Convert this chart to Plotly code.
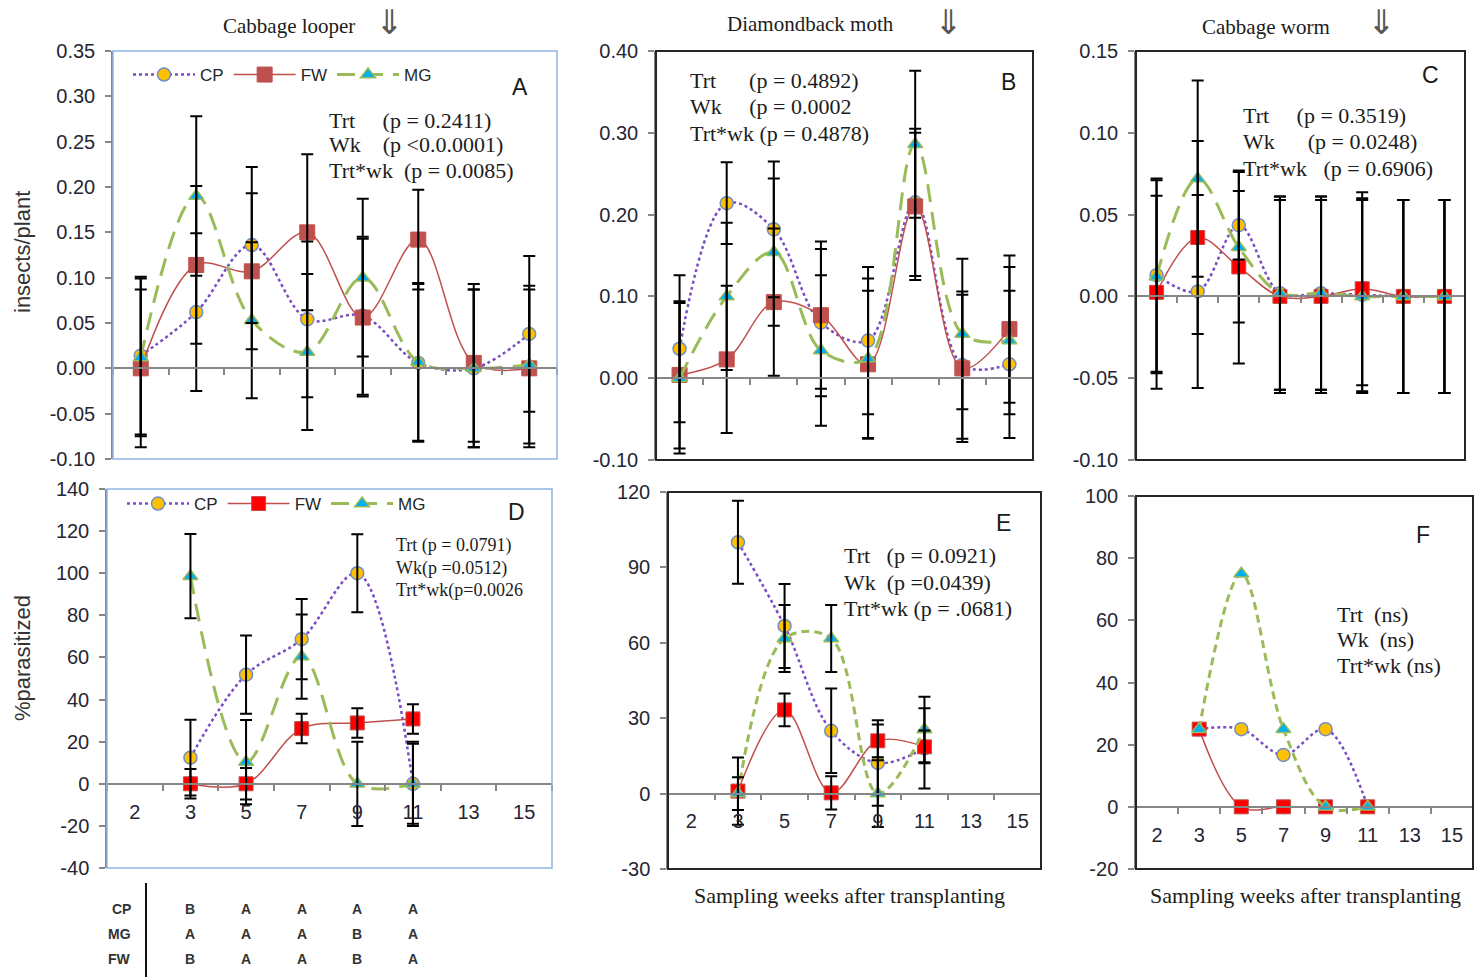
import plotly.graph_objects as go

W, H = 1477, 977

# ---------------------------------------------------------------- data
weeks = ["2", "3", "5", "7", "9", "11", "13", "15"]
par_weeks = ["3", "5", "7", "9", "11"]
series_names = ["CP", "FW", "MG"]

# Cabbage looper, insects/plant (mean and SE)
looper_cp = [0.014, 0.062, 0.136, 0.054, 0.058, 0.006, 0.000, 0.038]
looper_fw = [0.000, 0.114, 0.107, 0.150, 0.056, 0.142, 0.006, 0.000]
looper_mg = [0.012, 0.190, 0.053, 0.018, 0.100, 0.007, 0.000, 0.004]
looper_cp_se = [0.087, 0.087, 0.086, 0.086, 0.087, 0.087, 0.087, 0.086]
looper_fw_se = [0.087, 0.087, 0.086, 0.086, 0.087, 0.055, 0.087, 0.087]
looper_mg_se = [0.087, 0.088, 0.086, 0.086, 0.087, 0.087, 0.087, 0.087]

# Diamondback moth, insects/plant
dbm_cp = [0.036, 0.214, 0.182, 0.068, 0.046, 0.215, 0.016, 0.017]
dbm_fw = [0.004, 0.023, 0.093, 0.077, 0.017, 0.210, 0.012, 0.060]
dbm_mg = [0.000, 0.100, 0.154, 0.034, 0.024, 0.286, 0.054, 0.046]
dbm_cp_se = [0.090, 0.050, 0.083, 0.090, 0.090, 0.090, 0.090, 0.090]
dbm_fw_se = [0.090, 0.090, 0.090, 0.090, 0.090, 0.090, 0.090, 0.090]
dbm_mg_se = [0.092, 0.090, 0.090, 0.092, 0.098, 0.090, 0.092, 0.090]

# Cabbage worm, insects/plant
worm_cp = [0.013, 0.003, 0.0435, 0.002, 0.002, 0.001, 0.000, 0.000]
worm_fw = [0.0025, 0.036, 0.018, 0.000, 0.000, 0.0047, 0.000, 0.000]
worm_mg = [0.012, 0.072, 0.030, 0.002, 0.002, 0.000, 0.000, 0.000]
worm_cp_se = [0.059, 0.059, 0.021, 0.059, 0.059, 0.059, 0.059, 0.059]
worm_fw_se = [0.059, 0.059, 0.059, 0.059, 0.059, 0.059, 0.059, 0.059]
worm_mg_se = [0.059, 0.060, 0.046, 0.059, 0.059, 0.059, 0.059, 0.059]

# Cabbage looper, % parasitized
looper_par_cp = [12.4, 51.8, 68.7, 100.0, 0.0]
looper_par_fw = [0.0, 0.0, 26.2, 28.9, 30.8]
looper_par_mg = [98.6, 10.3, 60.4, 0.0, 0.0]
looper_par_cp_se = [18.0, 18.6, 19.0, 18.5, 19.0]
looper_par_fw_se = [7.0, 7.5, 7.0, 7.0, 7.0]
looper_par_mg_se = [20.0, 20.0, 20.0, 20.0, 20.0]

# Diamondback moth, % parasitized
dbm_par_cp = [100.0, 66.7, 25.0, 12.2, 18.0]
dbm_par_fw = [1.0, 33.3, 0.3, 21.0, 18.6]
dbm_par_mg = [0.0, 61.7, 61.7, 0.0, 25.5]
dbm_par_cp_se = [16.5, 16.7, 16.8, 17.0, 16.0]
dbm_par_fw_se = [13.4, 6.5, 6.6, 6.5, 6.5]
dbm_par_mg_se = [6.5, 13.3, 13.3, 13.3, 13.0]

# Cabbage worm, % parasitized
worm_par_cp = [25.0, 25.0, 16.7, 25.0, 0.0]
worm_par_fw = [25.0, 0.0, 0.0, 0.0, 0.0]
worm_par_mg = [25.0, 75.0, 25.0, 0.0, 0.0]

# y-axis ticks per panel
ticks_A = [-0.10, -0.05, 0.00, 0.05, 0.10, 0.15, 0.20, 0.25, 0.30, 0.35]
ticks_B = [-0.10, 0.00, 0.10, 0.20, 0.30, 0.40]
ticks_C = [-0.10, -0.05, 0.00, 0.05, 0.10, 0.15]
ticks_D = [-40, -20, 0, 20, 40, 60, 80, 100, 120, 140]
ticks_E = [-30, 0, 30, 60, 90, 120]
ticks_F = [-20, 0, 20, 40, 60, 80, 100]

# mean separation letters for looper parasitism (weeks 3-11)
sep_rows = ["CP", "MG", "FW"]
sep_letters = {
    "CP": ["B", "A", "A", "A", "A"],
    "MG": ["A", "A", "A", "B", "A"],
    "FW": ["B", "A", "A", "B", "A"],
}

pest_titles = ["Cabbage looper", "Diamondback moth", "Cabbage worm"]

# ---------------------------------------------------------------- styling
SERIF = "Liberation Serif"
SANS = "Liberation Sans"
TXT = "#1c1c1c"
AXIS = "#868686"
TICKFONT = dict(family=SANS, size=20, color="#262633")

panels = [
    dict(letter="A", box=(113, 51, 557, 459), ticks=ticks_A, fmt="{:.2f}",
         x=weeks, ys=(looper_cp, looper_fw, looper_mg),
         se=(looper_cp_se, looper_fw_se, looper_mg_se),
         frame=("#8EB4E3", 1.5), xlab=False, mgdash="18px,10px", fwcol="#C0504D",
         legend="legend", fwsize=15),
    dict(letter="B", box=(656, 51, 1033, 460), ticks=ticks_B, fmt="{:.2f}",
         x=weeks, ys=(dbm_cp, dbm_fw, dbm_mg), se=(dbm_cp_se, dbm_fw_se, dbm_mg_se),
         frame=("#262626", 2), xlab=False, mgdash="18px,10px", fwcol="#C0504D",
         legend=None, fwsize=15),
    dict(letter="C", box=(1136, 51, 1465, 460), ticks=ticks_C, fmt="{:.2f}",
         x=weeks, ys=(worm_cp, worm_fw, worm_mg), se=(worm_cp_se, worm_fw_se, worm_mg_se),
         frame=("#262626", 2), xlab=False, mgdash="18px,10px", fwcol="#FF0000",
         legend=None, fwsize=14),
    dict(letter="D", box=(107, 489, 552, 868), ticks=ticks_D, fmt="{:d}",
         x=par_weeks, ys=(looper_par_cp, looper_par_fw, looper_par_mg),
         se=(looper_par_cp_se, looper_par_fw_se, looper_par_mg_se),
         frame=("#8EB4E3", 1.5), xlab=True, mgdash="18px,10px", fwcol="#FF0000",
         legend="legend2", fwsize=14),
    dict(letter="E", box=(668, 492, 1041, 869), ticks=ticks_E, fmt="{:d}",
         x=par_weeks, ys=(dbm_par_cp, dbm_par_fw, dbm_par_mg),
         se=(dbm_par_cp_se, dbm_par_fw_se, dbm_par_mg_se),
         frame=("#262626", 2), xlab=True, mgdash="8px,5px", fwcol="#FF0000",
         legend=None, fwsize=14),
    dict(letter="F", box=(1136, 496, 1473, 869), ticks=ticks_F, fmt="{:d}",
         x=par_weeks, ys=(worm_par_cp, worm_par_fw, worm_par_mg), se=None,
         frame=("#262626", 2), xlab=True, mgdash="8px,5px", fwcol="#FF0000",
         legend=None, fwsize=14),
]

fig = go.Figure()
layout_axes = {}
shapes = []
annotations = []

for i, p in enumerate(panels, start=1):
    s = "" if i == 1 else str(i)
    x0, y0, x1, y1 = p["box"]
    xd = [x0 / W, x1 / W]
    yd = [1 - y1 / H, 1 - y0 / H]
    ymin, ymax = p["ticks"][0], p["ticks"][-1]
    zero_pos = yd[0] + (0 - ymin) / (ymax - ymin) * (yd[1] - yd[0])

    styles = [
        dict(line=dict(color="#7A4DC2", width=2.5, dash="dot", shape="spline", smoothing=1.0),
             marker=dict(symbol="circle", size=13, color="#FFC000",
                         line=dict(color="#6F8FC7", width=1.5))),
        dict(line=dict(color="#C0504D", width=1.5, shape="spline", smoothing=1.0),
             marker=dict(symbol="square", size=p["fwsize"], color=p["fwcol"],
                         line=dict(color="#C0504D", width=1))),
        dict(line=dict(color="#9BBB59", width=3, dash=p["mgdash"], shape="spline", smoothing=1.0),
             marker=dict(symbol="triangle-up", size=13, color="#00B0F0",
                         line=dict(color="#9BBB59", width=1.5))),
    ]
    for name, vals, st in zip(series_names, p["ys"], styles):
        fig.add_trace(go.Scatter(
            x=p["x"], y=vals, name=name, mode="lines+markers",
            xaxis="x" + s, yaxis="y" + s,
            line=st["line"], marker=st["marker"],
            showlegend=p["legend"] is not None,
            legend=p["legend"] or "legend",
            hoverinfo="skip",
        ))
    # error bars drawn above the series
    if p["se"] is not None:
        for vals, err in zip(p["ys"], p["se"]):
            fig.add_trace(go.Scatter(
                x=p["x"], y=vals, mode="markers", xaxis="x" + s, yaxis="y" + s,
                marker=dict(size=2, color="rgba(0,0,0,0)"),
                error_y=dict(type="data", array=err, visible=True, color="#000000",
                             thickness=2, width=6),
                showlegend=False, hoverinfo="skip",
            ))

    layout_axes["xaxis" + s] = dict(
        domain=xd, type="category", categoryorder="array", categoryarray=weeks,
        range=[-0.5, len(weeks) - 0.5], anchor="free", position=zero_pos,
        showline=True, linecolor=AXIS, linewidth=1.5,
        ticks="outside", tickson="boundaries", ticklen=6, tickcolor=AXIS, tickwidth=1.5,
        showticklabels=p["xlab"], ticklabelstandoff=10, tickfont=TICKFONT,
        showgrid=False, zeroline=False, fixedrange=True, automargin=False,
    )
    layout_axes["yaxis" + s] = dict(
        domain=yd, range=[ymin, ymax],
        tickmode="array", tickvals=p["ticks"],
        ticktext=[p["fmt"].format(v) for v in p["ticks"]],
        anchor="x" + s, side="left",
        showline=True, linecolor=AXIS, linewidth=1.5,
        ticks="outside", ticklen=6, tickcolor=AXIS, tickwidth=1.5,
        ticklabelstandoff=6, tickfont=TICKFONT,
        showgrid=False, zeroline=False, fixedrange=True, automargin=False,
    )
    shapes.append(dict(type="rect", xref="x" + s + " domain", yref="y" + s + " domain",
                       x0=0, x1=1, y0=0, y1=1,
                       line=dict(color=p["frame"][0], width=p["frame"][1])))

# ---------------------------------------------------------------- annotations
def note(text, x, y, size, family=SERIF, xanchor="left", color=TXT, **kw):
    annotations.append(dict(text=text, x=x / W, y=1 - y / H, xref="paper", yref="paper",
                            showarrow=False, xanchor=xanchor, yanchor="middle",
                            font=dict(family=family, size=size, color=color), **kw))

NB = "\u00a0"

# pest names with arrows
for title, cx, cy, ax in zip(pest_titles, [289, 810, 1266], [26, 24, 27], [389, 948, 1381]):
    note(title, cx, cy, 21, xanchor="center")
    note("\u21d3", ax, 22, 34, family="DejaVu Sans", xanchor="center", color="#555555")

# panel letters
for p, (lx, ly) in zip(panels, [(520, 87), (1008, 82), (1430, 75), (516, 512), (1003, 523), (1423, 535)]):
    note(p["letter"], lx, ly, 23, family=SANS, xanchor="center", color="#1a1a1a")

# statistics
stats = [
    (327, [120, 145, 170], 22, ["Trt" + NB * 5 + "(p = 0.2411)",
                                "Wk" + NB * 4 + "(p <0.0.0001)",
                                "Trt*wk" + NB * 2 + "(p = 0.0085)"]),
    (688, [80, 107, 134], 22, ["Trt" + NB * 6 + "(p = 0.4892)",
                               "Wk" + NB * 5 + "(p = 0.0002",
                               "Trt*wk" + NB + "(p = 0.4878)"]),
    (1241, [115, 141, 168], 22, ["Trt" + NB * 5 + "(p = 0.3519)",
                                 "Wk" + NB * 6 + "(p = 0.0248)",
                                 "Trt*wk" + NB * 3 + "(p = 0.6906)"]),
    (394, [545, 568, 590], 18, ["Trt (p = 0.0791)", "Wk(p =0.0512)", "Trt*wk(p=0.0026"]),
    (842, [555, 582, 608], 22, ["Trt" + NB * 3 + "(p = 0.0921)",
                                "Wk" + NB * 2 + "(p =0.0439)",
                                "Trt*wk (p = .0681)"]),
    (1335, [614, 639, 665], 22, ["Trt" + NB * 2 + "(ns)", "Wk" + NB * 2 + "(ns)",
                                 "Trt*wk (ns)"]),
]
for sx, sys_, size, lines in stats:
    for yy, line in zip(sys_, lines):
        note(line, sx, yy, size)

# axis titles
note("insects/plant", 22, 252, 22, family=SANS, xanchor="center", color="#333333", textangle=-90)
note("%parasitized", 22, 658, 22, family=SANS, xanchor="center", color="#333333", textangle=-90)
note("Sampling weeks after transplanting", 849, 895, 22, xanchor="center")
note("Sampling weeks after transplanting", 1305, 895, 22, xanchor="center")

# mean separation table under panel D
for row, ry in zip(sep_rows, [909, 934, 959]):
    note("<b>" + row + "</b>", 133, ry, 14, family=SANS, xanchor="right", color="#333333")
    for wk, letter in zip(par_weeks, sep_letters[row]):
        annotations.append(dict(text="<b>" + letter + "</b>", x=weeks.index(wk), y=1 - ry / H,
                                xref="x4", yref="paper", showarrow=False,
                                xanchor="center", yanchor="middle",
                                font=dict(family=SANS, size=14, color="#333333")))
shapes.append(dict(type="line", xref="paper", yref="paper", x0=146 / W, x1=146 / W,
                   y0=0, y1=1 - 883 / H, line=dict(color="#111111", width=2)))

legend_style = dict(orientation="h", xanchor="left", yanchor="middle",
                    bgcolor="rgba(0,0,0,0)", itemwidth=62, itemsizing="trace",
                    font=dict(family=SANS, size=17, color="#262626"))

fig.update_layout(
    width=W, height=H, margin=dict(l=0, r=0, t=0, b=0, autoexpand=False),
    paper_bgcolor="white", plot_bgcolor="white",
    legend=dict(x=128 / W, y=1 - 75 / H, **legend_style),
    legend2=dict(x=122 / W, y=1 - 504 / H, **legend_style),
    shapes=shapes, annotations=annotations,
    **layout_axes,
)

fig.write_html("out.html")
